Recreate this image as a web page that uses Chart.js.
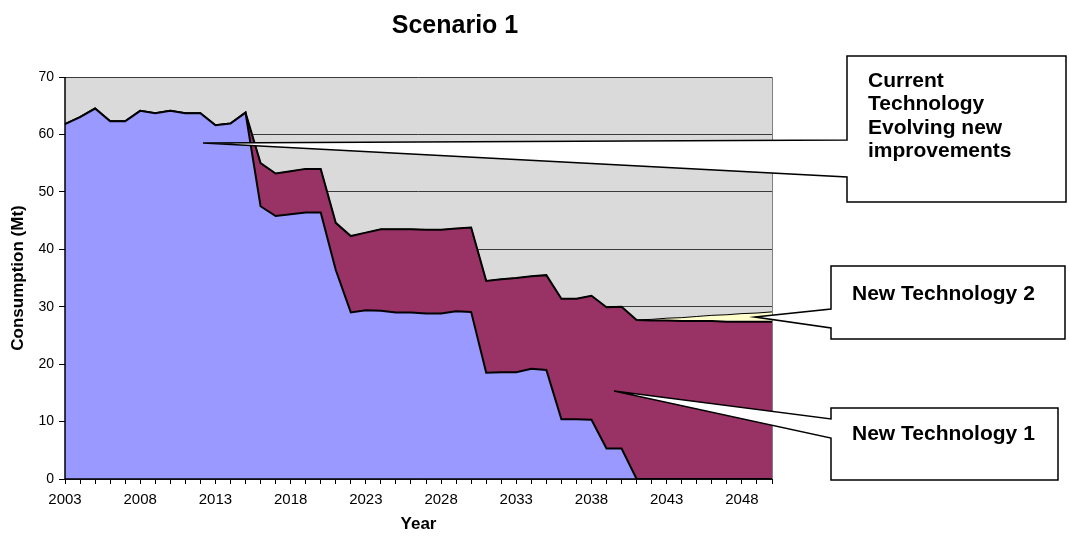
<!DOCTYPE html>
<html>
<head>
<meta charset="utf-8">
<title>Scenario 1</title>
<script src="https://cdn.jsdelivr.net/npm/chart.js@4/dist/chart.umd.min.js"></script>
<style>
  html, body { margin: 0; padding: 0; background: #ffffff; }
  #wrap { width: 1069px; height: 541px; }
</style>
</head>
<body>
<div id="wrap"><canvas id="c" width="1069" height="541"></canvas></div>
<script>
// Years on the horizontal axis
const years = [];
for (let y = 2003; y <= 2050; y++) years.push(String(y));

// Consumption (Mt) by technology, stacked
const currentTech = [
  61.8, 63.0, 64.5, 62.3, 62.3, 64.1, 63.7, 64.1, 63.7, 63.7,
  61.6, 61.9, 63.8, 47.5, 45.8, 46.1, 46.4, 46.4, 36.4, 29.0,
  29.4, 29.3, 29.0, 29.0, 28.8, 28.8, 29.2, 29.1, 18.5, 18.6,
  18.6, 19.2, 19.0, 10.4, 10.4, 10.3, 5.3, 5.3, 0, 0,
  0, 0, 0, 0, 0, 0, 0, 0
];
const newTech1 = [
  0, 0, 0, 0, 0, 0, 0, 0, 0, 0,
  0, 0, 0, 7.5, 7.4, 7.5, 7.6, 7.6, 8.2, 13.3,
  13.5, 14.2, 14.5, 14.5, 14.6, 14.6, 14.4, 14.7, 16.0, 16.2,
  16.4, 16.1, 16.5, 21.0, 21.0, 21.6, 24.6, 24.7, 27.7, 27.6,
  27.6, 27.5, 27.5, 27.5, 27.4, 27.4, 27.4, 27.4
];
const newTech2 = [
  0, 0, 0, 0, 0, 0, 0, 0, 0, 0,
  0, 0, 0, 0, 0, 0, 0, 0, 0, 0,
  0, 0, 0, 0, 0, 0, 0, 0, 0, 0,
  0, 0, 0, 0, 0, 0, 0, 0, 0, 0.2,
  0.4, 0.6, 0.8, 1.0, 1.2, 1.4, 1.5, 1.7
];
const yTicks = [0, 10, 20, 30, 40, 50, 60, 70];

const FONT = "'Liberation Sans', Arial, Helvetica, sans-serif";
Chart.defaults.font.family = FONT;
Chart.defaults.color = '#000000';

// Grey plot background behind the grid
const plotBackground = {
  id: 'plotBackground',
  beforeDraw(chart) {
    const { ctx, chartArea: a } = chart;
    ctx.save();
    ctx.fillStyle = '#dadada';
    ctx.fillRect(a.left, a.top, a.right - a.left, a.bottom - a.top);
    ctx.restore();
  }
};

// Axis lines and plot frame drawn over the filled areas
const plotFrame = {
  id: 'plotFrame',
  afterDatasetsDraw(chart) {
    const { ctx, chartArea: a } = chart;
    ctx.save();
    ctx.strokeStyle = '#808080';
    ctx.lineWidth = 1;
    ctx.beginPath();
    ctx.moveTo(Math.round(a.right) + 0.5, a.top);
    ctx.lineTo(Math.round(a.right) + 0.5, a.bottom);
    ctx.stroke();
    ctx.strokeStyle = '#000000';
    ctx.lineWidth = 1.5;
    ctx.beginPath();
    ctx.moveTo(a.left, a.top);
    ctx.lineTo(a.left, a.bottom);
    ctx.lineTo(a.right, a.bottom);
    ctx.stroke();
    ctx.restore();
  }
};

// Chart title and the three callout labels
const callouts = [
  { text: ['Current', 'Technology', 'Evolving new', 'improvements'],
    box: [847, 56, 1066, 202], attach: [140, 177], tip: [203, 143],
    textX: 868, baseline: 87, lineH: 23.3 },
  { text: ['New Technology 2'],
    box: [831, 266, 1065, 339], attach: [309, 328], tip: [755, 317],
    textX: 852, baseline: 300, lineH: 23.3 },
  { text: ['New Technology 1'],
    box: [831, 408, 1058, 480], attach: [419, 438], tip: [614, 391],
    textX: 852, baseline: 440, lineH: 23.3 }
];

const annotations = {
  id: 'annotations',
  afterDraw(chart) {
    const ctx = chart.ctx;
    ctx.save();
    ctx.fillStyle = '#000000';
    ctx.font = 'bold 25px ' + FONT;
    ctx.textAlign = 'center';
    ctx.textBaseline = 'alphabetic';
    ctx.fillText('Scenario 1', 455, 33);

    callouts.forEach(c => {
      const [l, t, r, b] = c.box;
      ctx.beginPath();
      ctx.moveTo(c.tip[0], c.tip[1]);
      ctx.lineTo(l, c.attach[0]);
      ctx.lineTo(l, t);
      ctx.lineTo(r, t);
      ctx.lineTo(r, b);
      ctx.lineTo(l, b);
      ctx.lineTo(l, c.attach[1]);
      ctx.closePath();
      ctx.fillStyle = '#ffffff';
      ctx.fill();
      ctx.strokeStyle = '#000000';
      ctx.lineWidth = 1.5;
      ctx.lineJoin = 'miter';
      ctx.stroke();

      ctx.fillStyle = '#000000';
      ctx.font = 'bold 21px ' + FONT;
      ctx.textAlign = 'left';
      c.text.forEach((line, i) => {
        ctx.fillText(line, c.textX, c.baseline + i * c.lineH);
      });
    });
    ctx.restore();
  }
};

new Chart(document.getElementById('c'), {
  type: 'line',
  data: {
    labels: years,
    datasets: [
      {
        label: 'Current Technology Evolving new improvements',
        data: currentTech,
        backgroundColor: '#9999ff',
        borderColor: '#000000',
        borderWidth: 2,
        fill: 'origin',
        pointRadius: 0,
        tension: 0
      },
      {
        label: 'New Technology 1',
        data: newTech1,
        backgroundColor: '#993366',
        borderColor: '#000000',
        borderWidth: 2,
        fill: '-1',
        pointRadius: 0,
        tension: 0
      },
      {
        label: 'New Technology 2',
        data: newTech2,
        backgroundColor: '#ffffcc',
        borderColor: '#000000',
        borderWidth: 1,
        fill: '-1',
        pointRadius: 0,
        tension: 0
      }
    ]
  },
  options: {
    responsive: false,
    animation: false,
    events: [],
    layout: { padding: { left: 0, top: 77, right: 297, bottom: 0 } },
    plugins: {
      legend: { display: false },
      tooltip: { enabled: false },
      title: { display: false }
    },
    scales: {
      x: {
        type: 'category',
        offset: false,
        border: { display: false },
        grid: {
          drawOnChartArea: false,
          drawTicks: true,
          tickLength: 5,
          tickColor: '#000000',
          tickWidth: 1
        },
        ticks: {
          autoSkip: false,
          maxRotation: 0,
          minRotation: 0,
          padding: 7,
          color: '#000000',
          font: { size: 15 },
          callback: (v, i) => (i % 5 === 0 ? years[i] : '')
        },
        title: {
          display: true,
          text: 'Year',
          color: '#000000',
          font: { size: 17, weight: 'bold' },
          padding: { top: 0, bottom: 6 }
        },
        afterFit(scale) { scale.height = 62; }
      },
      y: {
        stacked: true,
        min: yTicks[0],
        max: yTicks[yTicks.length - 1],
        border: { display: false },
        grid: {
          color: '#3a3a3a',
          lineWidth: 1,
          tickLength: 6,
          tickColor: '#000000'
        },
        afterBuildTicks(scale) {
          scale.ticks = yTicks.map(v => ({ value: v }));
        },
        ticks: {
          padding: 5,
          color: '#000000',
          font: { size: 14 }
        },
        title: {
          display: true,
          text: 'Consumption (Mt)',
          color: '#000000',
          font: { size: 17, weight: 'bold' },
          padding: { top: 8, bottom: 0 }
        },
        afterFit(scale) { scale.width = 65; }
      }
    }
  },
  plugins: [plotBackground, plotFrame, annotations]
});
</script>
</body>
</html>
